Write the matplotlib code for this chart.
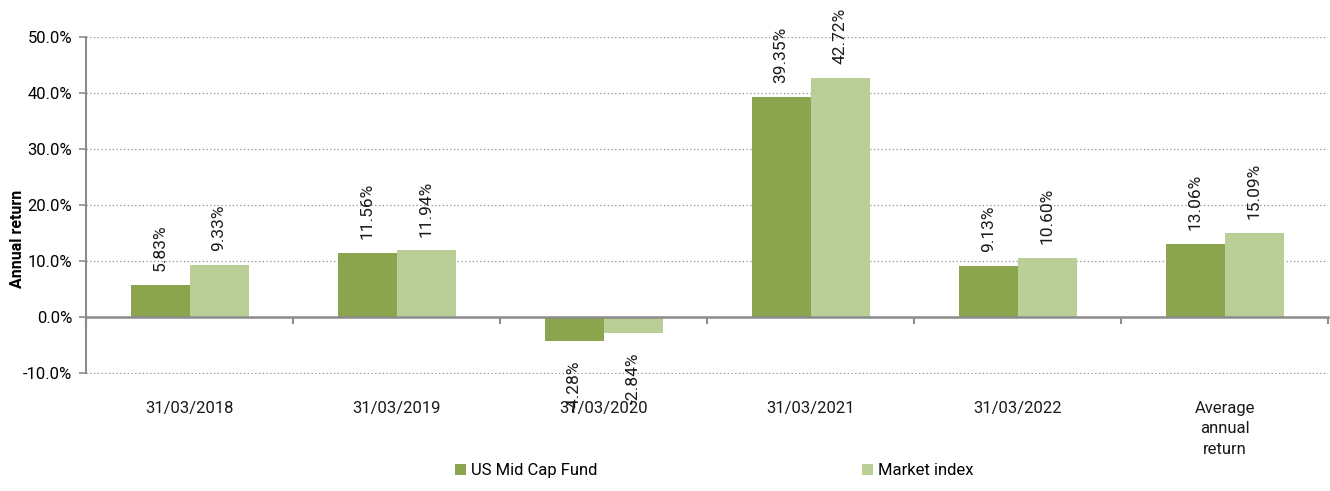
import matplotlib
matplotlib.use("Agg")
import matplotlib.pyplot as plt
import matplotlib.transforms as mtransforms
import numpy as np

plt.rcParams['font.family'] = ['Roboto', 'DejaVu Sans']

# data
categories = ['31/03/2018', '31/03/2019', '31/03/2020', '31/03/2021', '31/03/2022',
              'Average\nannual\nreturn']
fund = [5.83, 11.56, -4.28, 39.35, 9.13, 13.06]
index = [9.33, 11.94, -2.84, 42.72, 10.60, 15.09]
series_names = ['US Mid Cap Fund', 'Market index']
yticks = [-10, 0, 10, 20, 30, 40, 50]

c_fund = '#8ba54f'
c_index = '#bacf97'
grey = '#8c8c8c'

fig = plt.figure(figsize=(13.3, 4.91), dpi=100)
ax = fig.add_axes([0.0647, 0.2383, 0.934, 0.6863])

x = np.arange(len(categories))
w = 0.285
b1 = ax.bar(x - w / 2, fund, w, color=c_fund, label=series_names[0], zorder=3)
b2 = ax.bar(x + w / 2, index, w, color=c_index, label=series_names[1], zorder=3)

# value labels, rotated
for bars, vals in ((b1, fund), (b2, index)):
    for rect, v in zip(bars, vals):
        cx = rect.get_x() + rect.get_width() / 2
        if v >= 0:
            ax.annotate(f'{v:.2f}%', (cx, v), xytext=(0, 10), textcoords='offset points',
                        rotation=90, ha='center', va='bottom', fontsize=12.5, color='#1a1a1a')
        else:
            ax.annotate(f'{v:.2f}%', (cx, v), xytext=(0, -14), textcoords='offset points',
                        rotation=90, ha='center', va='top', fontsize=12.5, color='#1a1a1a')

ax.set_xlim(-0.5, len(categories) - 0.5)
ax.set_ylim(-10.1, 50)
ax.set_yticks(yticks)
ax.set_yticklabels([f'{t:.1f}%' for t in yticks], fontsize=12)
ax.yaxis.grid(True, linestyle=(0, (1, 2)), color=grey, linewidth=0.9, zorder=0)
ax.set_ylabel('Annual return', fontsize=11.5, fontweight='bold')
ax.yaxis.set_label_coords(-0.049, 0.40)

for s in ('top', 'right'):
    ax.spines[s].set_visible(False)
ax.spines['left'].set_color(grey)
ax.spines['left'].set_linewidth(1.5)
ax.spines['left'].set_bounds(-10, 50)
ax.spines['bottom'].set_position(('data', 0))
ax.spines['bottom'].set_color(grey)
ax.spines['bottom'].set_linewidth(1.8)
ax.spines['bottom'].set_zorder(4)

ax.set_xticks(np.arange(len(categories) + 1) - 0.5)
ax.set_xticklabels([])
ax.tick_params(axis='x', length=5, width=1.5, color=grey, direction='out')
ax.tick_params(axis='y', length=5, width=1.2, color=grey, pad=5)

# category labels under the plot area
trans = mtransforms.blended_transform_factory(ax.transData, ax.transAxes)
for xi, lab in zip(x, categories):
    ax.text(xi, -0.08, lab, transform=trans, ha='center', va='top', fontsize=12,
            linespacing=1.45, color='#1a1a1a')

fig.legend(handles=[b1, b2], labels=series_names, loc='lower left',
           bbox_to_anchor=(0.331, -0.005), ncol=2, frameon=False, fontsize=12,
           handlelength=0.65, handleheight=0.65, handletextpad=0.3, columnspacing=15.9)

fig.savefig('out.png', dpi=100)
